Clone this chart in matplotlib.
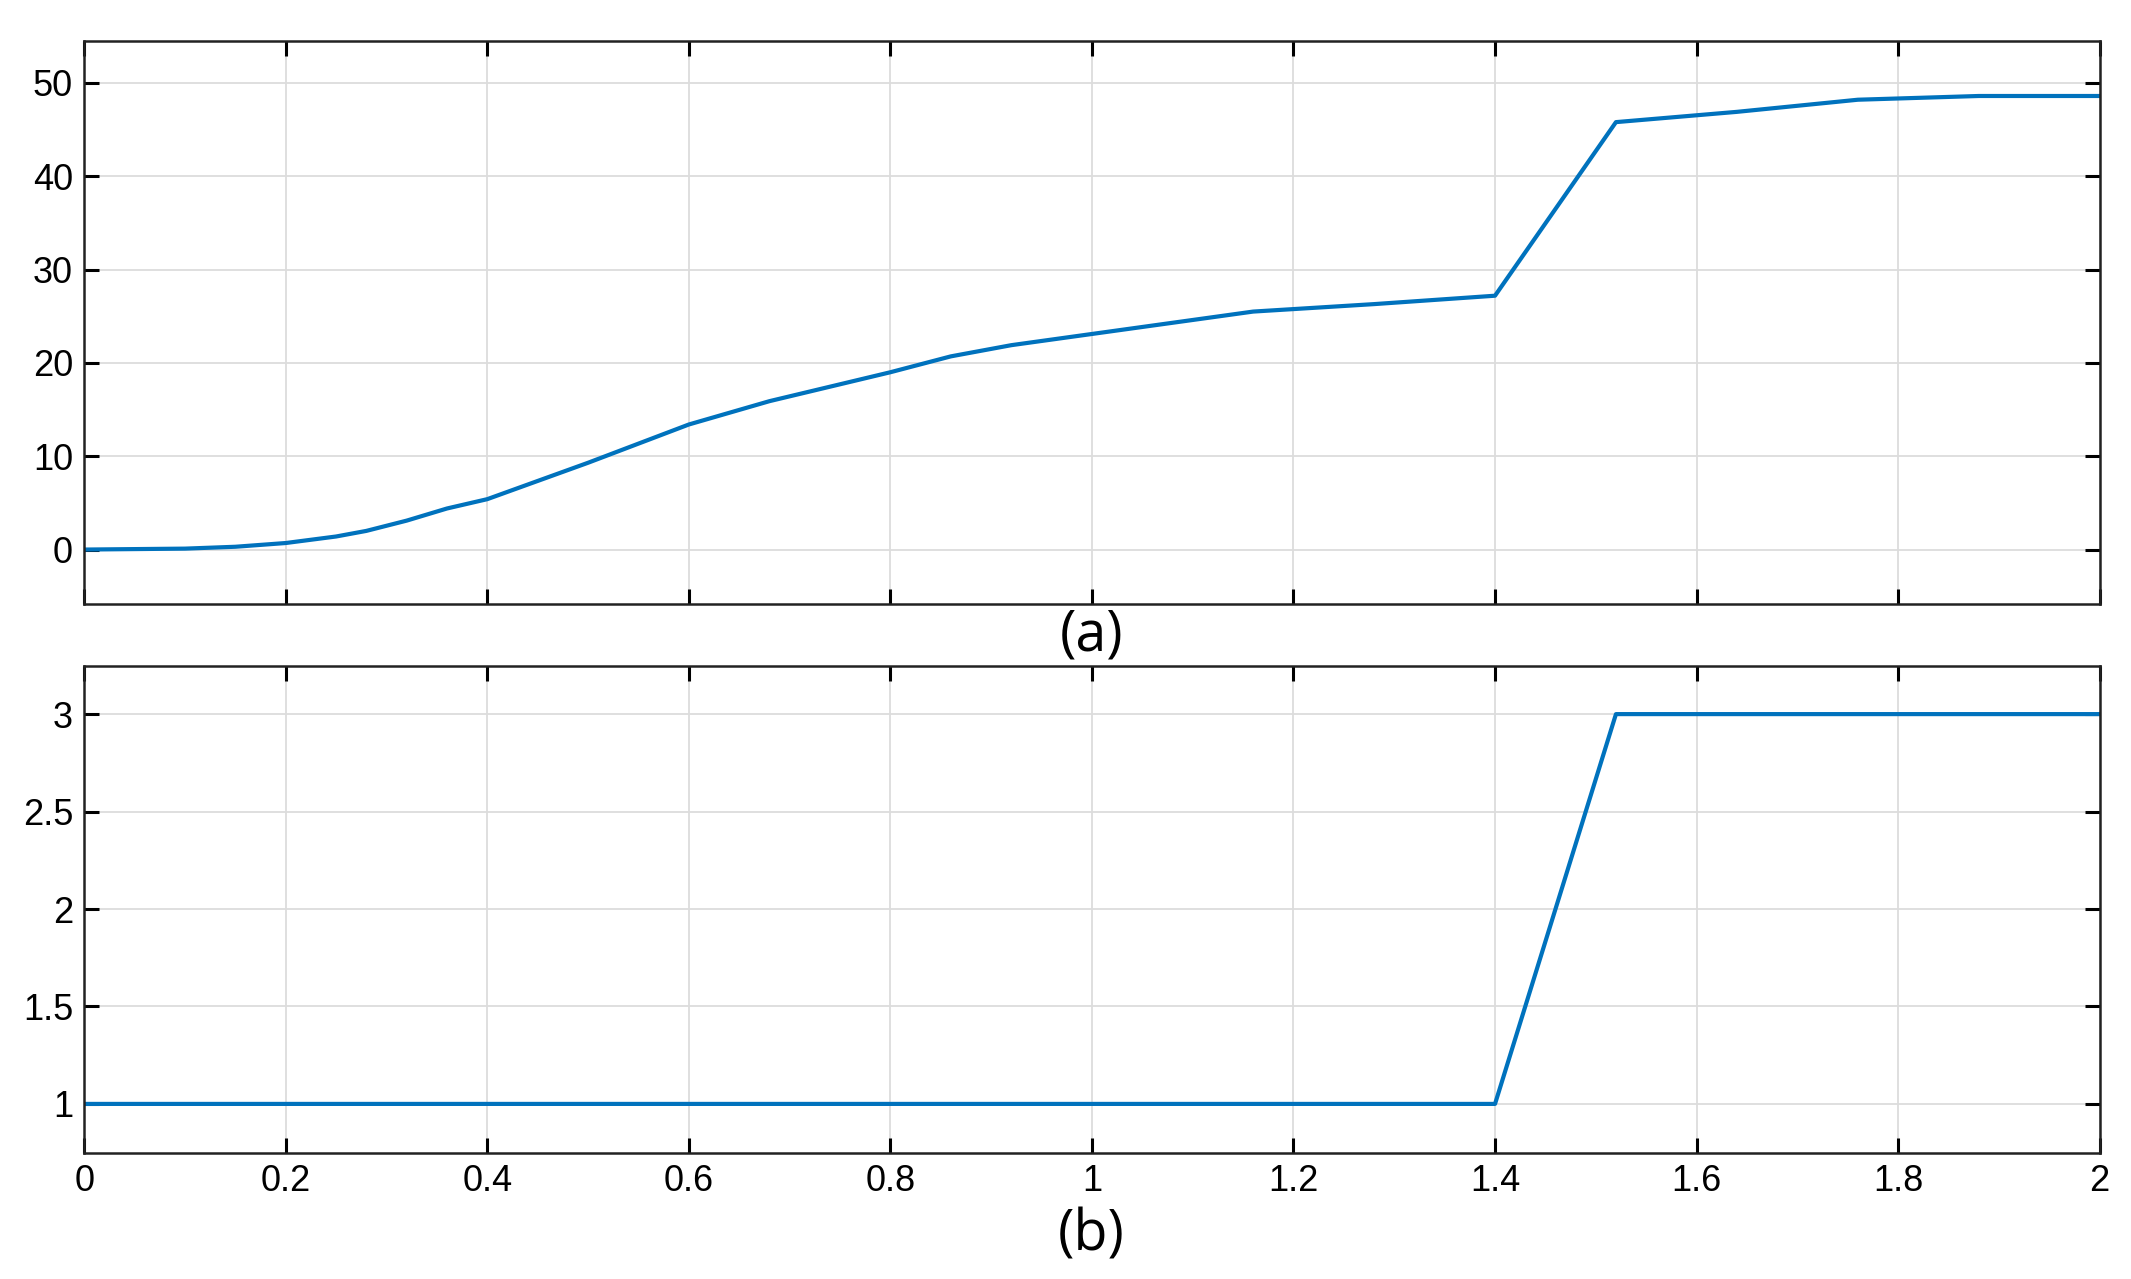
import matplotlib
matplotlib.use("Agg")
import matplotlib.pyplot as plt

# Data
time_a = [0.0, 0.1, 0.15, 0.2, 0.25, 0.28, 0.32, 0.36, 0.4, 0.5, 0.6, 0.68, 0.8, 0.86, 0.92,
          1.0, 1.08, 1.16, 1.28, 1.4, 1.52, 1.64, 1.76, 1.88, 2.0]
value_a = [0.0, 0.1, 0.3, 0.7, 1.4, 2.0, 3.1, 4.4, 5.4, 9.3, 13.4, 15.9, 19.0, 20.7, 21.9,
           23.1, 24.3, 25.5, 26.3, 27.2, 45.8, 46.9, 48.2, 48.6, 48.6]

time_b = [0.0, 1.4, 1.52, 2.0]
value_b = [1.0, 1.0, 3.0, 3.0]

xticks = [0, 0.2, 0.4, 0.6, 0.8, 1.0, 1.2, 1.4, 1.6, 1.8, 2.0]
xtick_labels = ["0", "0.2", "0.4", "0.6", "0.8", "1", "1.2", "1.4", "1.6", "1.8", "2"]
yticks_a = [0, 10, 20, 30, 40, 50]
yticks_b = [1, 1.5, 2, 2.5, 3]
ytick_labels_b = ["1", "1.5", "2", "2.5", "3"]

plt.rcParams['font.family'] = ['Liberation Sans', 'DejaVu Sans']
line_color = "#0072BD"

fig = plt.figure(figsize=(21.31, 12.79), dpi=100)
ax1 = fig.add_axes([0.0395, 0.528, 0.9458, 0.440])
ax2 = fig.add_axes([0.0395, 0.0988, 0.9458, 0.3802])

for ax in (ax1, ax2):
    ax.set_xlim(0, 2)
    ax.set_xticks(xticks)
    ax.grid(True, color="#dcdcdc", linewidth=1.3)
    ax.set_axisbelow(True)
    ax.tick_params(direction="in", length=11, width=2.2, top=True, right=True,
                   labelsize=26, colors="black", pad=8)
    for s in ax.spines.values():
        s.set_linewidth(1.8)
        s.set_color("#222222")

ax1.plot(time_a, value_a, color=line_color, linewidth=3)
ax1.set_ylim(-5.8, 54.5)
ax1.set_yticks(yticks_a)
ax1.set_xticklabels([])

ax2.plot(time_b, value_b, color=line_color, linewidth=3)
ax2.set_ylim(0.75, 3.245)
ax2.set_yticks(yticks_b)
ax2.set_yticklabels(ytick_labels_b)
ax2.set_xticklabels(xtick_labels)

fig.text(0.512, 0.503, "(a)", ha="center", va="center", fontsize=40, family=["Open Sans", "DejaVu Sans"])
fig.text(0.512, 0.034, "(b)", ha="center", va="center", fontsize=40, family=["Open Sans", "DejaVu Sans"])

fig.savefig("out.png", dpi=100, facecolor="white")
